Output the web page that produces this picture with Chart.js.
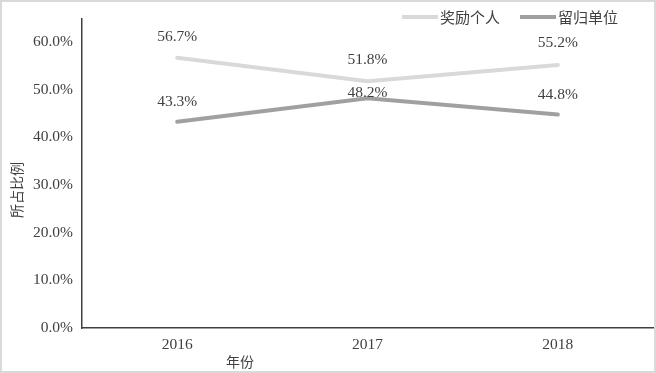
<!DOCTYPE html>
<html>
<head>
<meta charset="utf-8">
<script src="https://cdn.jsdelivr.net/npm/chart.js@4/dist/chart.umd.min.js"></script>
<style>
  html, body { margin: 0; padding: 0; background: #fff; }
  #wrap { width: 656px; height: 373px; position: relative; }
</style>
</head>
<body>
<div id="wrap"><canvas id="chart"></canvas></div>
<script>
const years = ["2016", "2017", "2018"];
const rewardPersonal = [0.567, 0.518, 0.552];
const keptByUnit = [0.433, 0.482, 0.448];
const seriesNames = ["奖励个人", "留归单位"];

const latin = '"Liberation Serif", "Times New Roman", serif';
const cjk = '"Noto Sans CJK SC", "Liberation Serif", sans-serif';
const textColor = "#404040";

function pct(v) {
    return (v * 100).toFixed(1) + "%";
}

const extras = {
    id: "extras",
    beforeDraw(chart) {
        const ctx = chart.ctx;
        ctx.save();
        ctx.strokeStyle = "#d9d9d9";
        ctx.lineWidth = 2;
        ctx.strokeRect(1, 1, chart.width - 2, chart.height - 2);
        ctx.restore();
    },
    afterDraw(chart) {
        const ctx = chart.ctx;
        ctx.save();
        ctx.fillStyle = textColor;

        // point labels
        ctx.font = "15.5px " + latin;
        ctx.textAlign = "center";
        ctx.textBaseline = "middle";
        chart.data.datasets.forEach((ds, i) => {
            chart.getDatasetMeta(i).data.forEach((pt, j) => {
                ctx.fillText(pct(ds.data[j]), pt.x, pt.y + ds.labelShift[j]);
            });
        });

        // axis titles
        ctx.font = "14px " + cjk;
        ctx.fillText("年份", 240, 362);
        ctx.save();
        ctx.translate(17, 190);
        ctx.rotate(-Math.PI / 2);
        ctx.fillText("所占比例", 0, 0);
        ctx.restore();

        // legend
        const legendX = [402, 520];
        ctx.font = "15px " + cjk;
        ctx.textAlign = "left";
        chart.data.datasets.forEach((ds, i) => {
            ctx.strokeStyle = ds.borderColor;
            ctx.lineWidth = ds.borderWidth;
            ctx.beginPath();
            ctx.moveTo(legendX[i], 17);
            ctx.lineTo(legendX[i] + 36, 17);
            ctx.stroke();
            ctx.fillText(ds.label, legendX[i] + 38, 17);
        });
        ctx.restore();
    }
};

new Chart(document.getElementById("chart"), {
    type: "line",
    data: {
        labels: years,
        datasets: [{
            label: seriesNames[0],
            data: rewardPersonal,
            borderColor: "#d9d9d9",
            borderWidth: 4,
            pointRadius: 0,
            borderCapStyle: "round",
            labelShift: [-21, -21, -22]
        }, {
            label: seriesNames[1],
            data: keptByUnit,
            borderColor: "#a0a0a0",
            borderWidth: 4,
            pointRadius: 0,
            borderCapStyle: "round",
            labelShift: [-20, -5, -20]
        }]
    },
    options: {
        responsive: true,
        maintainAspectRatio: false,
        animation: false,
        layout: { padding: { top: 15, right: 3, left: 0, bottom: 0 } },
        plugins: {
            legend: { display: false },
            tooltip: { enabled: false }
        },
        scales: {
            x: {
                offset: true,
                grid: { display: false, drawTicks: false },
                border: { display: true, color: "#404040", width: 1.5 },
                ticks: { color: textColor, padding: 8, font: { family: latin, size: 15.5 } },
                afterFit(scale) { scale.height = 45; }
            },
            y: {
                min: 0,
                max: 0.65,
                grid: { display: false, drawTicks: false },
                border: { display: true, color: "#404040", width: 1.5 },
                ticks: {
                    stepSize: 0.1,
                    color: textColor,
                    padding: 9,
                    font: { family: latin, size: 15.5 },
                    callback: v => pct(v)
                },
                afterBuildTicks(scale) {
                    scale.ticks = scale.ticks.filter(t => t.value <= 0.6001);
                },
                afterFit(scale) { scale.width = 82; }
            }
        }
    },
    plugins: [extras]
});
</script>
</body>
</html>
